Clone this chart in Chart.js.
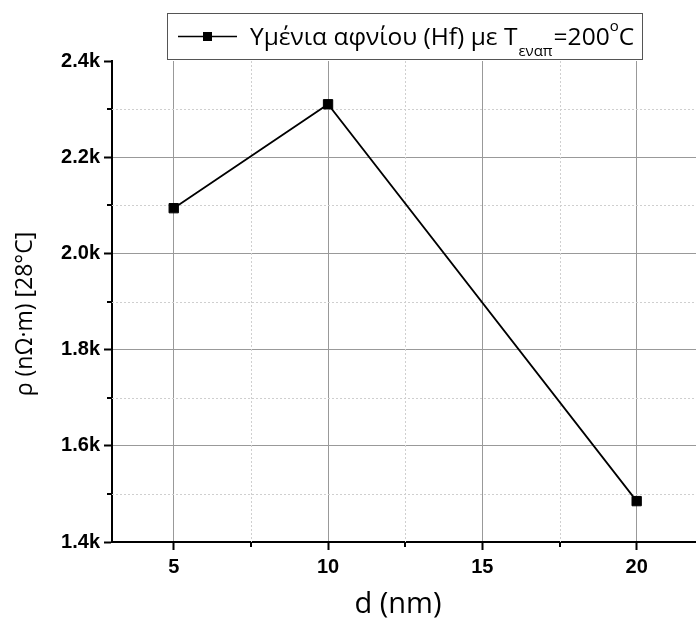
<!DOCTYPE html>
<html>
<head>
<meta charset="utf-8">
<script src="https://cdn.jsdelivr.net/npm/chart.js@4.4.1/dist/chart.umd.min.js"></script>
<style>
  html, body { margin: 0; padding: 0; background: #fff; overflow: hidden; width: 696px; height: 625px; }
  #wrap { position: absolute; left: 0; top: 0; width: 706px; height: 625px; }
</style>
</head>
<body>
<div id="wrap"><canvas id="chart" width="706" height="625"></canvas></div>
<script>
// Film thickness (nm) and measured resistivity (nΩ·m) at 28 °C
const thickness = [5, 10, 20];
const resistivity = [2094, 2310, 1485];

// Axis ticks
const xMajorTicks = [5, 10, 15, 20];
const xMinorTicks = [7.5, 12.5, 17.5];
const yMajorTicks = [1400, 1600, 1800, 2000, 2200, 2400];
const yMinorTicks = [1500, 1700, 1900, 2100, 2300];

// Texts
const seriesName = 'Υμένια αφνίου (Hf) με T';
const seriesSub = 'εναπ';
const seriesTail = '=200';
const seriesSup = 'o';
const seriesEnd = 'C';
const xTitle = 'd (nm)';
const yTitle = 'ρ (nΩ·m) [28°C]';

const FONT_TEXT = '"Open Sans", "Noto Sans", sans-serif';
const FONT_TICK = '"Liberation Sans", Arial, sans-serif';

// Minor grid lines (dashed) and minor ticks, plus legend and axis titles
const decor = {
  id: 'decor',
  beforeDatasetsDraw(chart) {
    const { ctx, chartArea: a, scales: { x, y } } = chart;
    ctx.save();
    ctx.strokeStyle = '#cfcfcf';
    ctx.lineWidth = 1;
    ctx.setLineDash([2, 2]);
    xMinorTicks.forEach(v => {
      const px = Math.round(x.getPixelForValue(v)) + 0.5;
      ctx.beginPath(); ctx.moveTo(px, a.top); ctx.lineTo(px, a.bottom); ctx.stroke();
    });
    yMinorTicks.forEach(v => {
      const py = Math.round(y.getPixelForValue(v)) + 0.5;
      ctx.beginPath(); ctx.moveTo(a.left, py); ctx.lineTo(a.right, py); ctx.stroke();
    });
    ctx.setLineDash([]);
    ctx.strokeStyle = '#000';
    ctx.lineWidth = 2;
    xMinorTicks.forEach(v => {
      const px = Math.round(x.getPixelForValue(v));
      ctx.beginPath(); ctx.moveTo(px, a.bottom); ctx.lineTo(px, a.bottom + 5); ctx.stroke();
    });
    yMinorTicks.forEach(v => {
      const py = Math.round(y.getPixelForValue(v));
      ctx.beginPath(); ctx.moveTo(a.left - 5, py); ctx.lineTo(a.left, py); ctx.stroke();
    });
    ctx.restore();
  },
  afterDraw(chart) {
    const { ctx } = chart;
    ctx.save();
    // legend box
    ctx.fillStyle = '#fff';
    ctx.fillRect(167, 13, 475, 46);
    ctx.strokeStyle = '#555';
    ctx.lineWidth = 1;
    ctx.strokeRect(167.5, 13.5, 475, 46);
    // legend symbol
    ctx.strokeStyle = '#000';
    ctx.lineWidth = 1.6;
    ctx.beginPath(); ctx.moveTo(178, 36.5); ctx.lineTo(237, 36.5); ctx.stroke();
    ctx.fillStyle = '#000';
    ctx.fillRect(203, 32, 9, 9);
    // legend text with subscript and superscript
    ctx.textBaseline = 'alphabetic';
    ctx.textAlign = 'left';
    let cx = 250;
    ctx.font = `24.5px ${FONT_TEXT}`;
    ctx.fillText(seriesName, cx, 45);
    cx += ctx.measureText(seriesName).width + 1;
    ctx.font = `15px ${FONT_TEXT}`;
    ctx.fillText(seriesSub, cx, 56);
    cx += ctx.measureText(seriesSub).width + 1;
    ctx.font = `24.5px ${FONT_TEXT}`;
    ctx.fillText(seriesTail, cx, 45);
    cx += ctx.measureText(seriesTail).width;
    ctx.font = `15px ${FONT_TEXT}`;
    ctx.fillText(seriesSup, cx, 31);
    cx += ctx.measureText(seriesSup).width;
    ctx.font = `24.5px ${FONT_TEXT}`;
    ctx.fillText(seriesEnd, cx, 45);
    // axis titles
    ctx.textAlign = 'center';
    ctx.textBaseline = 'middle';
    ctx.font = `29px ${FONT_TEXT}`;
    ctx.fillText(xTitle, 398, 605);
    ctx.translate(25, 314);
    ctx.rotate(-Math.PI / 2);
    ctx.font = `23px ${FONT_TEXT}`;
    ctx.fillText(yTitle, 0, 0);
    ctx.restore();
  }
};

new Chart(document.getElementById('chart'), {
  type: 'line',
  data: {
    datasets: [{
      label: seriesName + seriesSub + seriesTail + seriesSup + seriesEnd,
      data: thickness.map((d, i) => ({ x: d, y: resistivity[i] })),
      borderColor: '#000',
      borderWidth: 1.8,
      backgroundColor: '#000',
      pointStyle: 'rect',
      pointRadius: 6.6,
      pointBorderWidth: 1,
      pointBorderColor: '#000',
      pointBackgroundColor: '#000',
      tension: 0,
      fill: false
    }]
  },
  options: {
    responsive: false,
    animation: false,
    devicePixelRatio: 1,
    layout: { padding: { top: 61, right: 1, left: 0, bottom: 0 } },
    plugins: { legend: { display: false }, tooltip: { enabled: false } },
    scales: {
      x: {
        type: 'linear',
        min: 3,
        max: 22,
        afterBuildTicks: s => { s.ticks = xMajorTicks.map(v => ({ value: v })); },
        afterFit: s => { s.height = 83; },
        ticks: { color: '#000', font: { family: FONT_TICK, weight: 'bold', size: 20 }, padding: 5, maxRotation: 0, callback: v => String(v) },
        grid: { color: '#999', lineWidth: 1, tickColor: '#000', tickLength: 8, tickWidth: 2 },
        border: { color: '#000', width: 2 }
      },
      y: {
        type: 'linear',
        min: 1400,
        max: 2400,
        afterBuildTicks: s => { s.ticks = yMajorTicks.map(v => ({ value: v })); },
        afterFit: s => { s.width = 112; },
        ticks: { color: '#000', font: { family: FONT_TICK, weight: 'bold', size: 20 }, padding: 4, callback: v => (v / 1000).toFixed(1) + 'k' },
        grid: {
          color: c => (c.tick && c.tick.value === 2400) ? 'rgba(0,0,0,0)' : '#999',
          lineWidth: 1, tickColor: '#000', tickLength: 8, tickWidth: 2
        },
        border: { color: '#000', width: 2 }
      }
    }
  },
  plugins: [decor]
});
</script>
</body>
</html>
